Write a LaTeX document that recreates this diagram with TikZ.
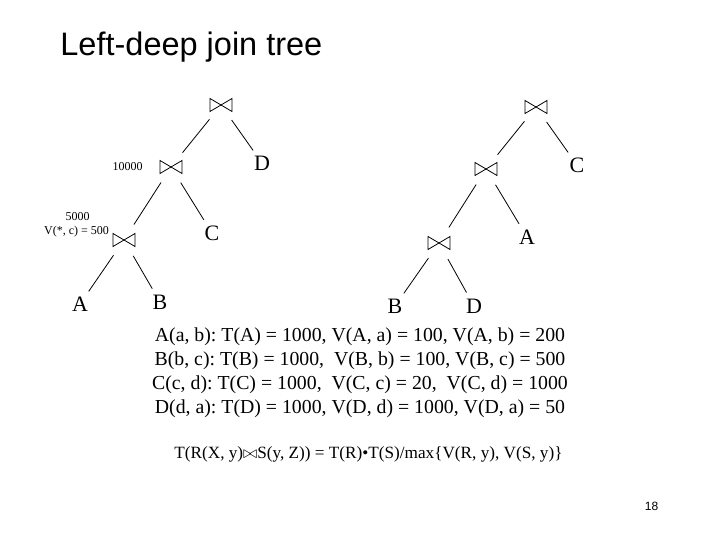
\documentclass[tikz,border=0pt]{standalone}
\usepackage{fontspec}
\setmainfont{Liberation Serif}
\newfontfamily\titlefont{Liberation Sans}
\frenchspacing
\begin{document}
\begin{tikzpicture}[x=1pt,y=-1pt,
  every path/.style={line width=0.8pt},
  joinnode/.style={circle, minimum size=36pt, inner sep=0pt,
    path picture={\draw[line width=0.8pt, shift={(path picture bounding box.center)}]
      (-11,-6.5) -- (-11,6.5) -- (11,-6.5) -- (11,6.5) -- cycle;}},
  leaf/.style={circle, minimum size=30pt, inner sep=0pt, font=\fontsize{22}{24}\selectfont},
  small/.style={font=\fontsize{12}{14}\selectfont, inner sep=0pt},
  tabline/.style={font=\fontsize{19.8}{22}\selectfont, anchor=base, inner sep=0pt}]
\useasboundingbox (0,0) rectangle (720,540);
\node[anchor=base west, inner sep=0pt, font=\titlefont\fontsize{32.5}{36}\selectfont] (title) at (60,56) {Left-deep join tree};
% left tree
\node[joinnode] (l1) at (221,105) {};
\node[joinnode] (l2) at (171,167) {};
\node[joinnode] (l3) at (124,240) {};
\node[leaf] (lD) at (262,163) {D};
\node[leaf] (lC) at (212,233) {C};
\node[leaf] (lA) at (80,304) {A};
\node[leaf] (lB) at (160,302) {B};
\draw (l1) -- (l2);
\draw (l1) -- (lD);
\draw (l2) -- (l3);
\draw (l2) -- (lC);
\draw (l3) -- (lA);
\draw (l3) -- (lB);
\node[small] (n10000) at (127.5,167) {10000};
\node[small] (n5000) at (77.5,217) {5000};
\node[small] (nv) at (76.5,232) {V(*, c) = 500};
% right tree
\node[joinnode] (r1) at (536,107) {};
\node[joinnode] (r2) at (486,169) {};
\node[joinnode] (r3) at (439,243) {};
\node[leaf] (rC) at (577,165) {C};
\node[leaf] (rA) at (527,237) {A};
\node[leaf] (rB) at (395,306) {B};
\node[leaf] (rD) at (474,306) {D};
\draw (r1) -- (r2);
\draw (r1) -- (rC);
\draw (r2) -- (r3);
\draw (r2) -- (rA);
\draw (r3) -- (rB);
\draw (r3) -- (rD);
% relations
\node[tabline] (t1) at (360,341) {A(a, b): T(A) = 1000, V(A, a) = 100, V(A, b) = 200};
\node[tabline] (t2) at (360,365) {B(b, c): T(B) = 1000,\ \ V(B, b) = 100, V(B, c) = 500};
\node[tabline] (t3) at (360,389) {C(c, d): T(C) = 1000,\ \ V(C, c) = 20,\ \ V(C, d) = 1000};
\node[tabline] (t4) at (360,413) {D(d, a): T(D) = 1000, V(D, d) = 1000, V(D, a) = 50};
\node[anchor=base, inner sep=0pt, font=\fontsize{17.2}{19}\selectfont] (formula) at (368.5,458)
  {T(R(X, y)$\bowtie$S(y, Z)) = T(R)•T(S)/max\{V(R, y), V(S, y)\}};
\node[anchor=base, inner sep=0pt, font=\titlefont\fontsize{12}{14}\selectfont] (page) at (651.5,510) {18};
\end{tikzpicture}
\end{document}
